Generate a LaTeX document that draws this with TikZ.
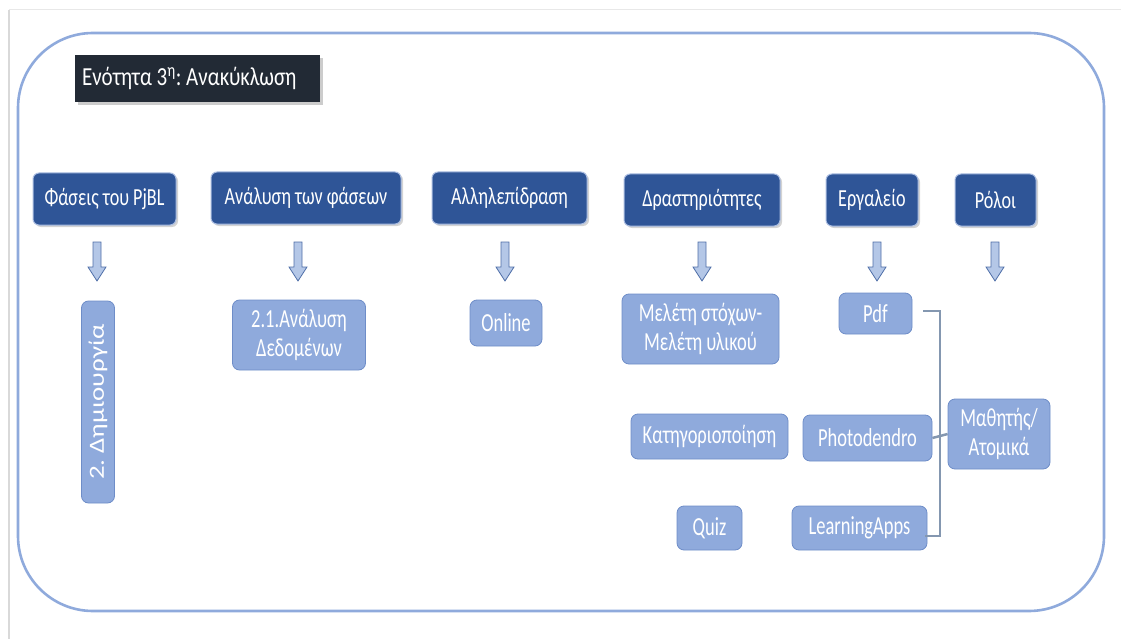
\documentclass[tikz,border=0pt]{standalone}
\usepackage{fontspec}
\usepackage{graphicx}
\setmainfont[FakeStretch=0.74]{Carlito}
\newfontfamily\hdrfont[FakeStretch=0.74]{Carlito}
\newfontfamily\lowfont[FakeStretch=0.71]{Carlito}
\newfontfamily\ttlfont[FakeStretch=0.81]{Carlito}
\newfontfamily\rotfont{Carlito}
\usetikzlibrary{shadows}
\definecolor{hdrfill}{HTML}{2F5597}
\definecolor{hdrline}{HTML}{A9BCE0}
\definecolor{boxfill}{HTML}{8FAADC}
\definecolor{boxline}{HTML}{6E8DC8}
\definecolor{framecol}{HTML}{8FAADC}
\definecolor{titlefill}{HTML}{222A35}
\definecolor{linkcol}{HTML}{8497B0}
\definecolor{arrfill}{HTML}{B4C7E7}
\definecolor{arrline}{HTML}{4F6FA8}
\definecolor{pagecol}{HTML}{D9D9D9}
\tikzset{
  hdrbox/.style={draw=hdrline, line width=1pt, fill=hdrfill, rounded corners=6pt,
    text=white, font=\hdrfont\fontsize{24.5}{27}\selectfont, inner sep=0pt,
    drop shadow={shadow xshift=2pt, shadow yshift=-2pt, opacity=0.35}},
  lowbox/.style={draw=boxline, line width=0.8pt, fill=boxfill, rounded corners=7pt,
    text=white, font=\lowfont\fontsize{26}{29}\selectfont, inner sep=0pt, align=center},
  downarr/.style={draw=arrline, line width=0.8pt, fill=arrfill},
  linkline/.style={draw=linkcol, line width=2.5pt}
}
\frenchspacing
\begin{document}
\frenchspacing
\begin{tikzpicture}[x=1pt,y=-1pt]
\useasboundingbox (0,0) rectangle (1121,639);
% page edge
\draw[pagecol!60, line width=1pt] (9,10) -- (1121,10);
\draw[pagecol, line width=1.5pt] (9,10) -- (9,639);
% frame
\draw[framecol, line width=2.6pt, rounded corners=75pt] (18,33) rectangle (1104,611);
% title
\node[fill=titlefill, minimum width=245pt, minimum height=47pt, inner sep=0pt,
  drop shadow={shadow xshift=3pt, shadow yshift=-3pt, opacity=0.4}]
  (titlebox) at (197.5,78.5) {};
\node[anchor=west, text=white, inner sep=0pt, font=\ttlfont\fontsize{26}{28}\selectfont]
  (titletext) at ([xshift=7pt]titlebox.west) {Ενότητα 3\textsuperscript{η}: Ανακύκλωση};
% headers
\node[hdrbox, minimum width=143pt, minimum height=52pt] (h1) at (104.5,199) {Φάσεις του PjBL};
\node[hdrbox, minimum width=190pt, minimum height=52pt] (h2) at (306,198) {Ανάλυση των φάσεων};
\node[hdrbox, minimum width=155pt, minimum height=52pt] (h3) at (509.5,198) {Αλληλεπίδραση};
\node[hdrbox, minimum width=156pt, minimum height=52pt] (h4) at (702,200) {Δραστηριότητες};
\node[hdrbox, minimum width=92pt, minimum height=52pt] (h5) at (872,200) {Εργαλείο};
\node[hdrbox, minimum width=81pt, minimum height=52pt] (h6) at (995.5,200) {Ρόλοι};
% arrows
\foreach \ax in {97,298,505,702,877,995}{
  \draw[downarr] (\ax-4,242) -- (\ax+4,242) -- (\ax+4,267) -- (\ax+9,267) -- (\ax,281)
     -- (\ax-9,267) -- (\ax-4,267) -- cycle;
}
% lower boxes
\node[lowbox, rotate=90, minimum width=202pt, minimum height=33pt, font=\rotfont\fontsize{27}{29}\selectfont]
  (d1) at (98,402) {\scalebox{1}[0.8]{2. Δημιουργία}};
\node[lowbox, minimum width=133pt, minimum height=70pt] (d2) at (299,335) {2.1.Ανάλυση\\Δεδομένων};
\node[lowbox, minimum width=72pt, minimum height=46pt] (d3) at (506,323) {Online};
\node[lowbox, minimum width=157pt, minimum height=70pt] (d4) at (700.5,329) {Μελέτη στόχων-\\Μελέτη υλικού};
\node[lowbox, minimum width=73pt, minimum height=41pt] (d5) at (875.5,313.5) {Pdf};
\node[lowbox, minimum width=157pt, minimum height=45pt] (d6) at (709.5,436.5) {Κατηγοριοποίηση};
\node[lowbox, minimum width=129pt, minimum height=46pt] (d7) at (867.5,438) {Photodendro};
\node[lowbox, minimum width=102pt, minimum height=70pt] (d8) at (999,434) {Μαθητής/\\Ατομικά};
\node[lowbox, minimum width=65pt, minimum height=44pt] (d9) at (709.5,528) {Quiz};
\node[lowbox, minimum width=135pt, minimum height=44pt] (d10) at (859.5,528) {LearningApps};
% bracket connector
\coordinate (bt) at (923,311);
\coordinate (bb) at (925,536);
\draw[linkline] (bt) -- (940,311) -- (940,536) -- (bb);
\draw[linkline] (d7.east) -- (d8.west);
\end{tikzpicture}
\end{document}
